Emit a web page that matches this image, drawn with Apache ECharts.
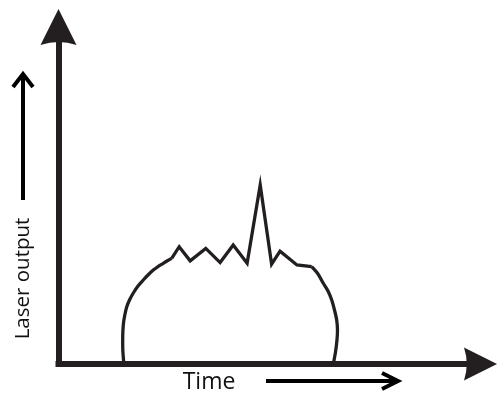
<!DOCTYPE html>
<html><head><meta charset="utf-8">
<script src="https://cdn.jsdelivr.net/npm/echarts@6/dist/echarts.min.js"></script>
<style>html,body{margin:0;padding:0;background:#fff}#c{width:497px;height:396px}</style>
</head><body><div id="c"></div>
<script>
// Axis titles
const xLabel = 'Time';
const yLabel = 'Laser output';
// Curve values [time, laser output] (arbitrary units, 0-100 scale)
const leftRise = [[15.5,0],[15.24,4.15],[15.21,7.12],[15.26,9.79],[15.43,12.46],[15.76,14.84],[16.16,16.91],[16.82,18.99],[17.73,21.07],[18.84,23.15],[20.09,24.93],[21.21,26.41],[22.46,27.89],[23.58,28.93],[24.83,29.88],[25.71,30.56],[26.82,31.36]];
const spikes = [[26.82,31.36],[28.6,34.8],[31.2,30.6],[34.9,34.3],[38.3,30.1],[41.4,35.3],[44.7,29.9],[47.8,53.1],[50.5,29.6],[52.5,33.5],[56.5,29.4],[60.0,28.87]];
const rightFall = [[60.0,28.87],[61.49,26.71],[62.75,23.95],[63.86,21.66],[64.74,18.99],[65.4,16.02],[65.92,13.06],[66.11,10.09],[65.99,7.12],[65.64,3.56],[65.12,0]];

const ink = '#231f20';
const arrowPath = 'path://M18,0 L36,36 Q18,30 0,36 Z';
const chart = echarts.init(document.getElementById('c'), null, {renderer:'canvas'});
const lineSeries = (data, smooth) => ({
  type:'line', data, smooth, symbol:'none', silent:true,
  lineStyle:{color:ink, width:3.3, join:'miter'}
});
chart.setOption({
  animation:false,
  backgroundColor:'#fff',
  grid:{left:58.5, right:16.5, top:27, bottom:32, outerBoundsMode:'none', containLabel:false},
  xAxis:{type:'value', min:0, max:100,
    axisLine:{lineStyle:{color:ink, width:6, cap:'square'}, symbol:['none', arrowPath], symbolSize:[33,33]},
    axisTick:{show:false}, axisLabel:{show:false}, splitLine:{show:false}},
  yAxis:{type:'value', min:0, max:100,
    axisLine:{show:true, lineStyle:{color:ink, width:6, cap:'square'}, symbol:['none', arrowPath], symbolSize:[36,37]},
    axisTick:{show:false}, axisLabel:{show:false}, splitLine:{show:false}},
  series:[lineSeries(leftRise, 0.3), lineSeries(spikes, false), lineSeries(rightFall, 0.3)],
  graphic:[
    {type:'text', x:23, y:278.5, rotation:Math.PI/2, style:{text:yLabel, font:'20.5px "Open Sans"', fill:'#111', align:'center', verticalAlign:'middle'}},
    {type:'line', shape:{x1:23,y1:200,x2:23,y2:75}, style:{stroke:'#000', lineWidth:4}},
    {type:'polyline', shape:{points:[[13,87],[23,74],[33,87]]}, style:{stroke:'#000', lineWidth:4, fill:null}},
    {type:'text', x:209, y:382, style:{text:xLabel, font:'23px "Open Sans"', fill:'#111', align:'center', verticalAlign:'middle'}},
    {type:'line', shape:{x1:266,y1:381,x2:396,y2:381}, style:{stroke:'#000', lineWidth:4}},
    {type:'polyline', shape:{points:[[382,373],[398,381],[382,389]]}, style:{stroke:'#000', lineWidth:4, fill:null}}
  ]
});
</script></body></html>
